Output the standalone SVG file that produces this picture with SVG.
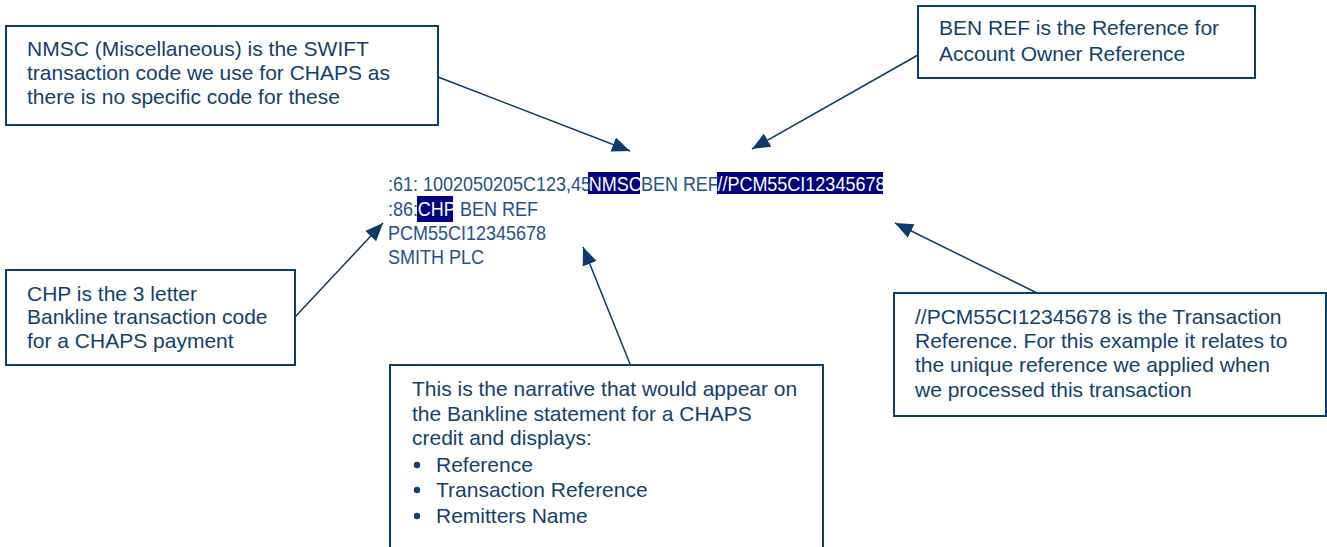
<svg xmlns="http://www.w3.org/2000/svg" width="1327" height="547" viewBox="0 0 1327 547">
<defs>
<style>
.box{fill:#ffffff;stroke:#0d3c6e;stroke-width:2}
.bt{font-family:"Liberation Sans",Arial,sans-serif;font-size:21px;fill:#123f70}
.mt{font-family:"Liberation Sans",Arial,sans-serif;font-size:20px;fill:#24528c}
.hl{fill:#000080}
.ht{fill:#ffffff}
.conn{stroke:#0b3a6b;stroke-width:1.5;fill:none;marker-end:url(#ah)}
</style>
<marker id="ah" markerUnits="userSpaceOnUse" markerWidth="20" markerHeight="20" viewBox="0 0 20 20" refX="18" refY="10" orient="auto">
<path d="M0,2.5 L18,10 L0,17.5 Z" fill="#0b3a6b"/>
</marker>
</defs>
<rect width="1327" height="547" fill="#ffffff"/>

<g id="record">
<rect class="hl" x="588" y="172" width="52" height="22"/>
<rect class="hl" x="717" y="172" width="166" height="22"/>
<rect class="hl" x="417" y="196" width="36" height="26"/>
<g transform="translate(388,0) scale(0.9,1)">
<text class="mt" x="0" y="191">:61: 1002050205C123,45<tspan x="223" class="ht">NMSC</tspan><tspan x="281">BEN REF</tspan><tspan x="366" class="ht">//PCM55CI12345678</tspan></text>
<text class="mt" x="0" y="216">:86:<tspan x="33" class="ht">CHP</tspan><tspan x="80">BEN REF</tspan></text>
<text class="mt" x="0" y="240">PCM55CI12345678</text>
<text class="mt" x="0" y="264">SMITH PLC</text>
</g>
</g>

<g id="connectors">
<line class="conn" x1="438" y1="77" x2="630" y2="151"/>
<line class="conn" x1="918" y1="55" x2="752" y2="149"/>
<line class="conn" x1="1037" y1="293" x2="895" y2="223"/>
<line class="conn" x1="295" y1="317" x2="383" y2="223"/>
<line class="conn" x1="630" y1="364" x2="583" y2="247"/>
</g>

<g id="nmsc-note">
<rect class="box" x="6" y="26" width="432" height="99"/>
<text class="bt" x="27" y="56">NMSC (Miscellaneous) is the SWIFT</text>
<text class="bt" x="27" y="80">transaction code we use for CHAPS as</text>
<text class="bt" x="27" y="104">there is no specific code for these</text>
</g>

<g id="benref-note">
<rect class="box" x="918" y="6" width="337" height="72"/>
<text class="bt" x="939" y="35">BEN REF is the Reference for</text>
<text class="bt" x="939" y="61">Account Owner Reference</text>
</g>

<g id="chp-note">
<rect class="box" x="6" y="270" width="289" height="95"/>
<text class="bt" x="27" y="301">CHP is the 3 letter</text>
<text class="bt" x="27" y="324">Bankline transaction code</text>
<text class="bt" x="27" y="348">for a CHAPS payment</text>
</g>

<g id="txref-note">
<rect class="box" x="894" y="293" width="432" height="123"/>
<text class="bt" x="915" y="324">//PCM55CI12345678 is the Transaction</text>
<text class="bt" x="915" y="348">Reference. For this example it relates to</text>
<text class="bt" x="915" y="372">the unique reference we applied when</text>
<text class="bt" x="915" y="397">we processed this transaction</text>
</g>

<g id="narrative-note">
<rect class="box" x="390" y="365" width="433" height="200"/>
<text class="bt" x="412" y="396">This is the narrative that would appear on</text>
<text class="bt" x="412" y="421">the Bankline statement for a CHAPS</text>
<text class="bt" x="412" y="445">credit and displays:</text>
<circle cx="417" cy="465" r="3.2" fill="#123f70"/>
<circle cx="417" cy="490" r="3.2" fill="#123f70"/>
<circle cx="417" cy="516" r="3.2" fill="#123f70"/>
<text class="bt" x="436" y="472">Reference</text>
<text class="bt" x="436" y="497">Transaction Reference</text>
<text class="bt" x="436" y="523">Remitters Name</text>
</g>
</svg>
